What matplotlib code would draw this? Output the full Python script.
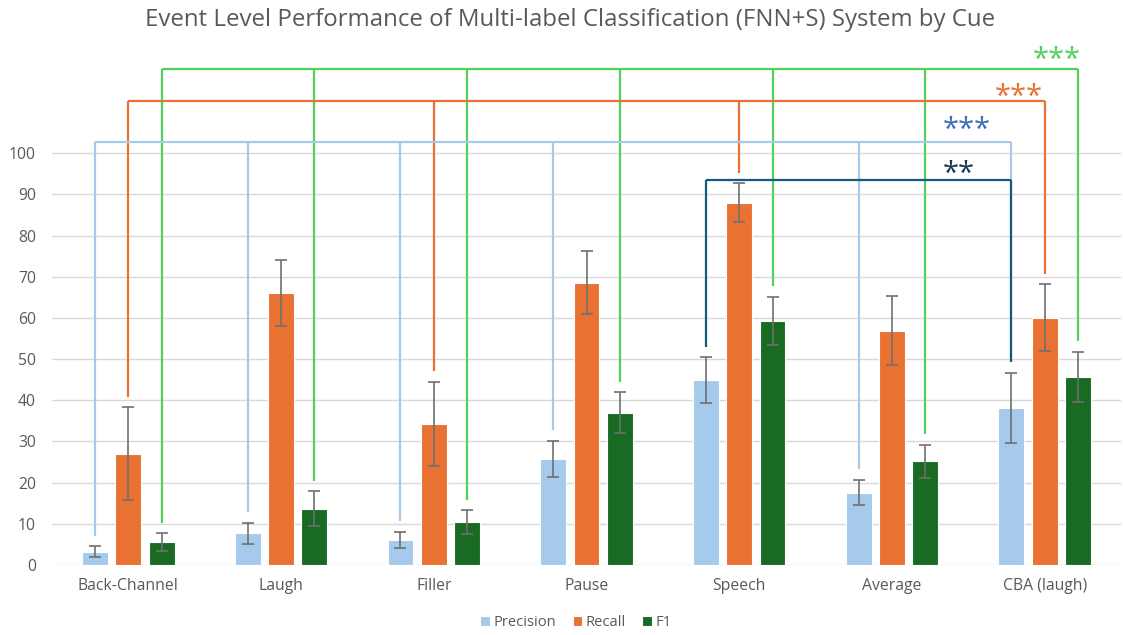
import matplotlib
matplotlib.use("Agg")
import matplotlib.pyplot as plt
import numpy as np

plt.rcParams['font.family'] = ['Open Sans', 'DejaVu Sans']

cues = ['Back-Channel', 'Laugh', 'Filler', 'Pause', 'Speech', 'Average', 'CBA (laugh)']
series = ['Precision', 'Recall', 'F1']

precision = [3.2, 7.7, 6.1, 25.8, 44.9, 17.6, 38.1]
recall = [27.0, 66.0, 34.3, 68.6, 88.0, 56.9, 60.1]
f1 = [5.6, 13.7, 10.4, 37.0, 59.3, 25.2, 45.7]

precision_err = [1.3, 2.6, 2.0, 4.4, 5.5, 3.0, 8.5]
recall_err = [11.3, 8.0, 10.2, 7.7, 4.7, 8.4, 8.1]
f1_err = [2.1, 4.2, 2.9, 4.9, 5.9, 4.0, 6.1]

# significance brackets: (series index, bars joined, star label)
brackets = [
    (2, [0, 1, 2, 3, 4, 5, 6], '***'),
    (1, [0, 2, 4, 6], '***'),
    (0, [0, 1, 2, 3, 5, 6], '***'),
    (0, [4, 6], '**'),
]
bracket_y = [120.4, 112.6, 102.8, 93.4]
bracket_col = ['#4fd15c', '#e97132', '#a6caec', '#15597c']
star_col = ['#4fd15c', '#e97132', '#3c6eb4', '#1d3750']
star_x = [5.92, 5.67, 5.33, 5.33]
star_y = [119.0, 110.0, 102.0, 91.3]

colors = ['#a6caec', '#e97132', '#196b24']
vals = [precision, recall, f1]
errs = [precision_err, recall_err, f1_err]

fig = plt.figure(figsize=(11.23, 6.35), dpi=100)
ax = fig.add_axes([52/1123, 70/635, 1069/1123, 527/635])

x = np.arange(len(cues))
off = 0.218
w = 0.17
for i in range(3):
    ax.bar(x + (i - 1) * off, vals[i], w, color=colors[i], edgecolor='white',
           linewidth=0.8, label=series[i], zorder=3)
    ax.errorbar(x + (i - 1) * off, vals[i], yerr=errs[i], fmt='none',
                ecolor='#6f6f6f', elinewidth=1.2, capsize=4, capthick=1.2, zorder=4)

gap = 2.6
for k, (s, members, lab) in enumerate(brackets):
    yb = bracket_y[k]
    xs = x[members] + (s - 1) * off
    ax.plot([xs[0], xs[-1]], [yb, yb], color=bracket_col[k], lw=1.6, zorder=5,
            solid_capstyle='butt')
    for m, xv in zip(members, xs):
        top = vals[s][m] + errs[s][m] + gap
        ax.plot([xv, xv], [top, yb], color=bracket_col[k], lw=1.6, zorder=5,
                solid_capstyle='butt')
    ax.text(star_x[k], star_y[k], lab, color=star_col[k], fontsize=21,
            ha='left', va='bottom')

ax.set_xlim(-0.5, 6.5)
ax.set_ylim(0, 128)
ax.set_yticks(range(0, 101, 10))
ax.set_xticks(x)
ax.set_xticklabels(cues)
for sp in ax.spines.values():
    sp.set_visible(False)
ax.tick_params(length=0, labelsize=11.3, labelcolor='#595959')
ax.tick_params(axis='x', pad=9)
ax.tick_params(axis='y', pad=11.5)
for t in range(0, 101, 10):
    ax.axhline(t, color='#d9d9d9', lw=1, zorder=1)

fig.text(0.508, 0.969, 'Event Level Performance of Multi-label Classification (FNN+S) System by Cue',
         ha='center', va='center', fontsize=17.3, color='#595959')

fig.legend(loc='center', bbox_to_anchor=(0.513, 0.019), ncol=3, frameon=False,
           fontsize=10.6, labelcolor='#595959', handlelength=0.65, handleheight=0.65,
           handletextpad=0.25, columnspacing=1.1)

fig.savefig('out.png', dpi=100)
